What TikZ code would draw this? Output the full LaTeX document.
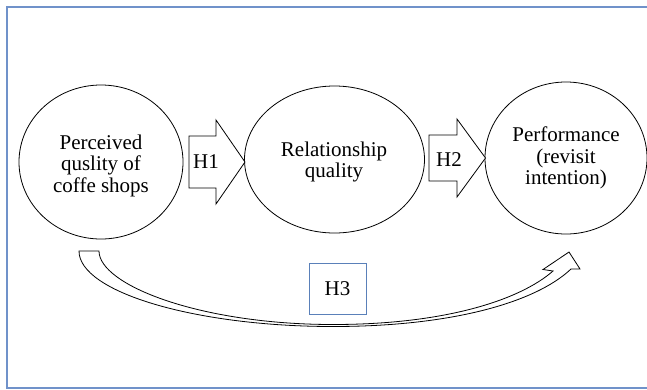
\documentclass[tikz,border=0pt]{standalone}
\usepackage{fontspec}
\setmainfont{Liberation Serif}
\newfontfamily\timesfont{Liberation Serif}
\usetikzlibrary{shapes.geometric}
\definecolor{framecol}{RGB}{112,146,202}
\definecolor{boxcol}{RGB}{90,128,185}
\begin{document}
\begin{tikzpicture}[x=1pt,y=-1pt,
  circ/.style={draw=black, line width=0.8pt, ellipse, inner sep=0pt},
  txt/.style={align=center, font=\timesfont\fontsize{21}{21.5}\selectfont, inner sep=0pt},
  blockarrow/.style={draw=black, line width=0.8pt, fill=white, line join=miter},
]
\useasboundingbox (0,0) rectangle (647,389);
\clip (0,0) rectangle (647,389);
\draw[framecol, line width=1.8pt] (652,7) -- (7,7) -- (7,388) -- (652,388);
% circles
\node[circ, minimum width=164pt, minimum height=154pt] (c1) at (101,162) {};
\node[circ, minimum width=180pt, minimum height=147pt] (c2) at (334.5,159.5) {};
\node[circ, minimum width=162pt, minimum height=152pt] (c3) at (566,158) {};
% block arrows
\draw[blockarrow] (189,136) -- (216,136) -- (216,120) -- (245,162) -- (216,204) -- (216,188) -- (189,188) -- cycle;
\draw[blockarrow] (429,135) -- (457,135) -- (457,119) -- (485.5,158) -- (457,197) -- (457,181) -- (429,181) -- cycle;
% curved arrow
\draw[blockarrow] (79,251) .. controls (79,292) and (195,326.5) .. (333,326.5)
  .. controls (450,326.5) and (535,303) .. (571,269) -- (580,269) -- (569,252) -- (543,269.5) -- (553,271)
  .. controls (520,300) and (445,324.5) .. (333,324.5)
  .. controls (200,324.5) and (99,285) .. (99,251) -- cycle;
% texts
\node[txt] (t1) at (101,165.5) {Perceived\\ quslity of\\ coffe shops};
\node[txt] (t2) at (334,162) {Relationship\\ quality};
\node[txt] (t3) at (566,158) {Performance\\ (revisit\\ intention)};
\node[txt] (h1) at (206,162) {H1};
\node[txt] (h2) at (449,160) {H2};
\node[txt, draw=boxcol, line width=0.9pt, minimum width=57pt, minimum height=51pt] (h3) at (337.5,288.5) {H3};
\end{tikzpicture}
\end{document}
